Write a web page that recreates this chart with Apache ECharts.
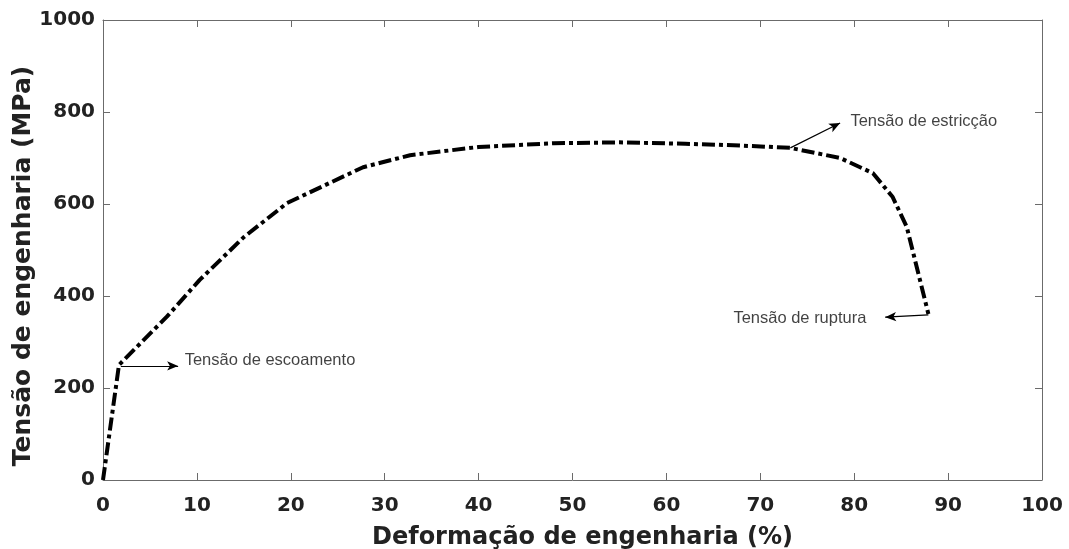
<!DOCTYPE html>
<html>
<head>
<meta charset="utf-8">
<script src="https://cdn.jsdelivr.net/npm/echarts@6/dist/echarts.min.js"></script>
<style>
  html, body { margin: 0; padding: 0; background: #fff; }
  #chart { width: 1069px; height: 549px; }
</style>
</head>
<body>
<div id="chart"></div>
<script>
// Engineering strain (%) and engineering stress (MPa) of the tensile test
const strain = [0, 1.7, 6.8, 10.3, 15, 19.6, 27.7, 32.7, 40, 48, 55, 62, 68, 73.2, 78.5, 82, 84.1, 85.6, 87.9];
const stress = [0, 250, 355, 435, 528, 602, 680, 706, 724, 732, 734, 731, 727, 722, 700, 667, 615, 550, 361];

// Annotated points: arrow start, arrow end, label anchor, label text
const notes = ['Tensão de escoamento', 'Tensão de estricção', 'Tensão de ruptura'];
const arrowFrom = [[1.9, 248], [73.2, 722], [87.9, 359]];
const arrowTo = [[8.0, 248], [78.5, 776], [83.3, 354]];
const labelAt = [[8.7, 259], [79.6, 780], [81.3, 352]];
const labelAlign = ['left', 'left', 'right'];

const axisGray = '#6b6b6b';
const heavyFont = 'DejaVu Sans';
const chart = echarts.init(document.getElementById('chart'));

const curve = strain.map((x, i) => [x, stress[i]]);

// shared look of the four frame sides (line + inward ticks)
function frame(extra) {
  return Object.assign({
    type: 'value',
    axisLine: { show: true, onZero: false, lineStyle: { color: axisGray, width: 1 } },
    axisTick: { show: true, inside: true, length: 7, lineStyle: { color: axisGray } },
    splitLine: { show: false }
  }, extra);
}

const tickLabel = { fontFamily: heavyFont, fontWeight: 'bold', fontSize: 20, color: '#222', formatter: v => String(v) };
const titleText = { fontFamily: heavyFont, fontWeight: 'bold', color: '#222' };

chart.setOption({
  animation: false,
  grid: { left: 103, right: 27, top: 20, bottom: 69, outerBoundsMode: 'none', containLabel: false },
  xAxis: [
    frame({
      min: 0, max: 100, interval: 10,
      name: 'Deformação de engenharia (%)',
      nameLocation: 'middle', nameGap: 46,
      nameTextStyle: Object.assign({ fontSize: 24, padding: [0, 0, 0, 20] }, titleText),
      axisLabel: Object.assign({ margin: 16 }, tickLabel)
    }),
    frame({
      position: 'top', min: 0, max: 100, interval: 10,
      axisLabel: { show: false }
    })
  ],
  yAxis: [
    frame({
      min: 0, max: 1000, interval: 200,
      name: 'Tensão de engenharia (MPa)',
      nameLocation: 'middle', nameGap: 67, nameMoveOverlap: false,
      nameTextStyle: Object.assign({ fontSize: 25, padding: [0, 32, 0, 0] }, titleText),
      axisLabel: Object.assign({ margin: 8 }, tickLabel)
    }),
    frame({
      position: 'right', min: 0, max: 1000, interval: 200,
      axisLabel: { show: false }
    })
  ],
  series: [
    {
      type: 'line',
      data: curve,
      showSymbol: false,
      smooth: false,
      lineStyle: { color: '#000', width: 4, type: [13, 4, 4, 4] },
      markLine: {
        silent: true,
        symbol: ['none', 'arrow'],
        symbolSize: [7, 11],
        lineStyle: { color: '#000', width: 1.2, type: 'solid' },
        label: { show: false },
        data: arrowFrom.map((p, i) => [{ coord: p }, { coord: arrowTo[i] }])
      }
    },
    {
      type: 'scatter',
      data: labelAt.map((p, i) => ({
        value: p,
        label: {
          show: true, position: 'inside', formatter: notes[i],
          align: labelAlign[i], verticalAlign: 'middle',
          fontFamily: 'Liberation Sans', fontSize: 16.5, color: '#111'
        }
      })),
      symbolSize: 1,
      itemStyle: { color: 'rgba(0,0,0,0)' },
      silent: true
    }
  ]
});
</script>
</body>
</html>
